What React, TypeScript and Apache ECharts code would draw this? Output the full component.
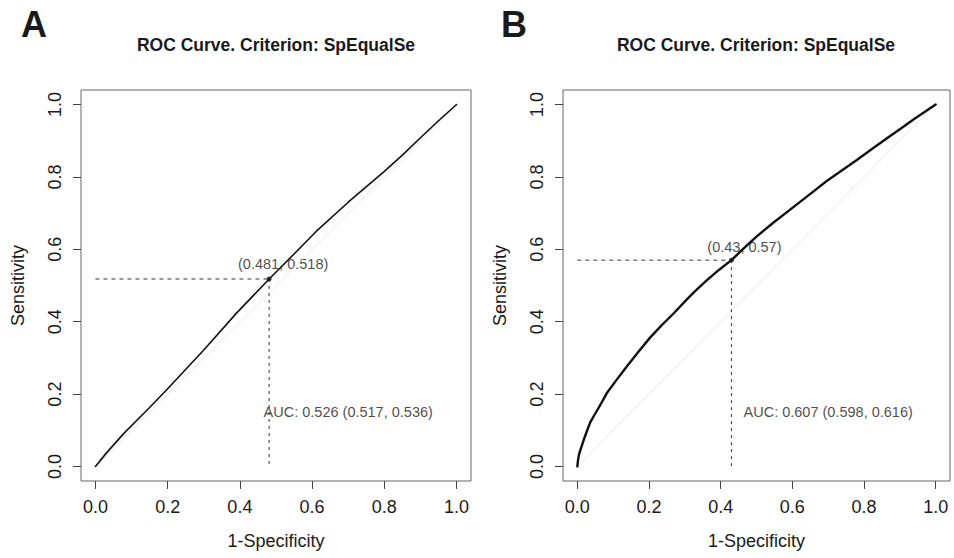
import React, { useEffect, useRef } from "react";
import * as echarts from "echarts";

// Panel A ROC curve (1-Specificity, Sensitivity)
const fprA = [0, 0.03, 0.08, 0.15, 0.2, 0.3, 0.39, 0.481, 0.55, 0.612, 0.7, 0.8, 0.85, 0.9, 0.95, 1];
const tprA = [0, 0.037, 0.093, 0.163, 0.215, 0.322, 0.423, 0.518, 0.587, 0.65, 0.73, 0.815, 0.86, 0.908, 0.955, 1];
// Panel B ROC curve
const fprB = [0, 0.002, 0.004, 0.007, 0.01, 0.014, 0.018, 0.026, 0.036, 0.048, 0.06, 0.072, 0.083, 0.11, 0.138, 0.17, 0.203, 0.235, 0.27, 0.305, 0.33, 0.361, 0.395, 0.43, 0.465, 0.5, 0.545, 0.593, 0.645, 0.695, 0.737, 0.779, 0.825, 0.872, 0.905, 0.94, 0.97, 1];
const tprB = [0, 0.018, 0.03, 0.041, 0.05, 0.062, 0.074, 0.096, 0.122, 0.143, 0.163, 0.184, 0.204, 0.24, 0.276, 0.316, 0.356, 0.39, 0.424, 0.461, 0.486, 0.514, 0.543, 0.57, 0.603, 0.635, 0.672, 0.709, 0.749, 0.788, 0.817, 0.846, 0.879, 0.912, 0.935, 0.96, 0.98, 1];
// Optimal cut-points
const cutA = [0.481, 0.518];
const cutB = [0.43, 0.57];
const cutLabelA = "(0.481, 0.518)";
const cutLabelB = "(0.43, 0.57)";
const aucTextA = "AUC: 0.526 (0.517, 0.536)";
const aucTextB = "AUC: 0.607 (0.598, 0.616)";
const aucPos = [0.7, 0.15];
const ticks = [0, 0.2, 0.4, 0.6, 0.8, 1.0];
const tickLabels = ["0.0", "0.2", "0.4", "0.6", "0.8", "1.0"];
const diag = [0, 1];
const titleText = "ROC Curve. Criterion: SpEqualSe";
const panelLetters = ["A", "B"];
const xName = "1-Specificity";
const yName = "Sensitivity";

const FONT = "'Liberation Sans', Arial, Helvetica, sans-serif";
const TXT = "#1a1a1a";

function zip(a: number[], b: number[]) {
  return a.map((v, i) => [v, b[i]]);
}

export default function App() {
  const ref = useRef<HTMLDivElement>(null);
  useEffect(() => {
    if (!ref.current) return;
    const chart = echarts.init(ref.current, undefined, { renderer: "svg" });
    const grids = [
      { left: 81, top: 90, width: 390, height: 391 },
      { left: 563, top: 90, width: 387, height: 391 },
    ];
    const fmt = (v: number) => tickLabels[ticks.findIndex((t) => Math.abs(t - v) < 1e-6)] ?? "";
    const mkX = (gi: number) => ({
      type: "value",
      gridIndex: gi,
      min: -0.04,
      max: 1.04,
      name: xName,
      nameLocation: "middle",
      nameGap: 51,
      nameTextStyle: { fontSize: 18, color: TXT, fontFamily: FONT },
      axisLine: { show: false, onZero: false },
      splitLine: { show: false },
      axisTick: {
        show: true,
        customValues: ticks,
        length: 8,
        lineStyle: { color: "#444" },
      },
      axisLabel: {
        customValues: ticks,
        fontSize: 18,
        color: TXT,
        fontFamily: FONT,
        margin: 17,
        formatter: fmt,
      },
    });
    const mkY = (gi: number) => ({
      type: "value",
      gridIndex: gi,
      min: -0.04,
      max: 1.04,
      name: yName,
      nameLocation: "middle",
      nameGap: 54,
      nameTextStyle: { fontSize: 18, color: TXT, fontFamily: FONT },
      axisLine: { show: false, onZero: false },
      splitLine: { show: false },
      axisTick: {
        show: true,
        customValues: ticks,
        length: 8,
        lineStyle: { color: "#444" },
      },
      axisLabel: {
        customValues: ticks,
        fontSize: 18,
        color: TXT,
        fontFamily: FONT,
        rotate: 90,
        margin: 17,
        formatter: fmt,
      },
    });

    const panelSeries = (
      gi: number,
      fpr: number[],
      tpr: number[],
      cut: number[],
      cutLabel: string,
      aucText: string,
      width: number,
      labelOffset: number[]
    ) => [
      {
        type: "line",
        xAxisIndex: gi,
        yAxisIndex: gi,
        data: zip(diag, diag),
        showSymbol: false,
        silent: true,
        lineStyle: { color: "#e6e6e6", width: 1 },
      },
      {
        type: "line",
        xAxisIndex: gi,
        yAxisIndex: gi,
        data: [
          [0, cut[1]],
          [cut[0], cut[1]],
        ],
        showSymbol: false,
        silent: true,
        lineStyle: { color: "#333", width: 1, type: [4, 4] },
      },
      {
        type: "line",
        xAxisIndex: gi,
        yAxisIndex: gi,
        data: [
          [cut[0], cut[1]],
          [cut[0], 0],
        ],
        showSymbol: false,
        silent: true,
        lineStyle: { color: "#333", width: 1, type: [3, 4] },
      },
      {
        type: "line",
        xAxisIndex: gi,
        yAxisIndex: gi,
        data: zip(fpr, tpr),
        showSymbol: false,
        silent: true,
        lineStyle: { color: "#111", width, join: "round", cap: "round" },
      },
      {
        type: "scatter",
        xAxisIndex: gi,
        yAxisIndex: gi,
        data: [cut],
        symbolSize: 5,
        silent: true,
        itemStyle: { color: "#111" },
        label: {
          show: true,
          position: "top",
          offset: labelOffset,
          formatter: cutLabel,
          fontSize: 14.5,
          color: TXT,
          fontFamily: FONT,
        },
      },
      {
        type: "scatter",
        xAxisIndex: gi,
        yAxisIndex: gi,
        data: [aucPos],
        symbolSize: 0,
        silent: true,
        label: {
          show: true,
          position: "inside",
          formatter: aucText,
          fontSize: 14.5,
          color: TXT,
          fontFamily: FONT,
        },
      },
    ];

    const letter = (t: string, x: number) => ({
      type: "text",
      x,
      y: 24,
      style: {
        text: t,
        fontSize: 36,
        fontWeight: "bold",
        fontFamily: FONT,
        fill: TXT,
        align: "center",
        verticalAlign: "middle",
      },
    });
    const title = (x: number) => ({
      type: "text",
      x,
      y: 45,
      style: {
        text: titleText,
        fontSize: 17.5,
        fontWeight: "bold",
        fontFamily: FONT,
        fill: TXT,
        align: "center",
        verticalAlign: "middle",
      },
    });

    chart.setOption({
      animation: false,
      grid: grids.map((g) => ({
        ...g,
        show: true,
        borderColor: "#666",
        borderWidth: 1,
        backgroundColor: "transparent",
      })),
      xAxis: [mkX(0), mkX(1)],
      yAxis: [mkY(0), mkY(1)],
      series: [
        ...panelSeries(0, fprA, tprA, cutA, cutLabelA, aucTextA, 1.6, [14, 0]),
        ...panelSeries(1, fprB, tprB, cutB, cutLabelB, aucTextB, 2.4, [13, 2]),
      ],
      graphic: [letter(panelLetters[0], 34), letter(panelLetters[1], 514), title(276), title(756)],
    });
    return () => chart.dispose();
  }, []);
  return (
    <div
      ref={ref}
      style={{ position: "fixed", left: 0, top: 0, width: 954, height: 558, background: "#fff" }}
    />
  );
}
